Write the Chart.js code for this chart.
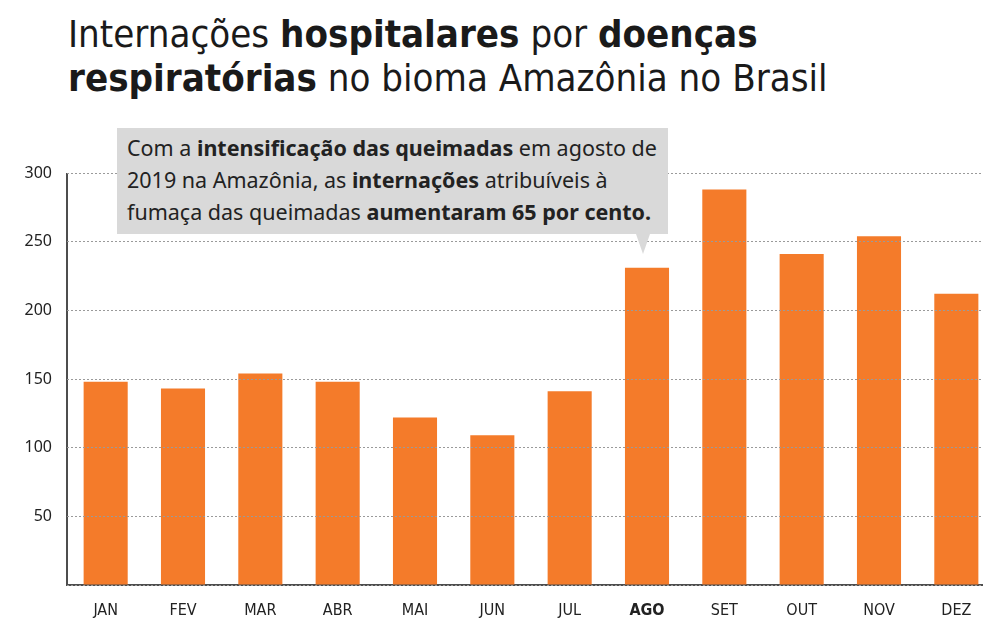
<!DOCTYPE html>
<html>
<head>
<meta charset="utf-8">
<script src="https://cdn.jsdelivr.net/npm/chart.js@4"></script>
<style>
  html, body { margin: 0; padding: 0; background: #fff; overflow: hidden; }
  body { width: 983px; height: 641px; position: relative; }
  #title {
    position: absolute; left: 68px; top: 12px;
    font-family: "DejaVu Sans Condensed", "Liberation Sans Narrow", "DejaVu Sans", sans-serif;
    font-stretch: condensed;
    font-size: 38.1px; line-height: 44px; color: #1a1a1a;
    white-space: nowrap;
  }
  #wrap { position: absolute; left: 0; top: 0; width: 1000px; height: 641px; }
  #note {
    position: absolute; left: 117px; top: 128px; width: 551px; height: 106px;
    background: #d9d9d9; box-sizing: border-box; padding: 4px 0 0 10px;
    font-family: "Noto Sans", "Open Sans", sans-serif; font-size: 21.5px; line-height: 32px;
    color: #222; white-space: nowrap;
  }
  #note:after {
    content: ""; position: absolute; left: 519px; top: 106px;
    border-left: 7px solid transparent; border-right: 7px solid transparent;
    border-top: 20px solid #d9d9d9;
  }
</style>
</head>
<body>
<div id="title">Internações <b>hospitalares</b> por <b>doenças</b><br><b>respiratórias</b> no bioma Amazônia no Brasil</div>
<div id="wrap"><canvas id="my-chart" width="1000" height="641"></canvas></div>
<div id="note">Com a <b>intensificação das queimadas</b> em agosto de<br>2019 na Amazônia, as <b>internações</b> atribuíveis à<br>fumaça das queimadas <b>aumentaram 65 por cento.</b></div>
<script>
const months = ["JAN", "FEV", "MAR", "ABR", "MAI", "JUN", "JUL", "AGO", "SET", "OUT", "NOV", "DEZ"];
const admissions = [148, 143, 154, 148, 122, 109, 141, 231, 288, 241, 254, 212];
const yTicks = [0, 50, 100, 150, 200, 250, 300];
const boldMonth = "AGO";

const ctx = document.getElementById("my-chart").getContext("2d");
const chart = new Chart(ctx, {
  type: "bar",
  data: {
    labels: months,
    datasets: [
      {
        label: "Internações",
        backgroundColor: "#f47b2a",
        data: admissions,
        barPercentage: 0.57,
        categoryPercentage: 1,
      },
    ],
  },
  options: {
    responsive: false,
    animation: false,
    layout: { padding: { top: 173, right: 5, left: 0, bottom: 0 } },
    plugins: { legend: { display: false }, tooltip: { enabled: false } },
    scales: {
      x: {
        // only the first grid line is shown: it is the vertical axis line
        grid: {
          drawTicks: false,
          color: (c) => (c.index === 0 ? "#4d4d4d" : "rgba(0,0,0,0)"),
          lineWidth: (c) => (c.index === 0 ? 2 : 0),
        },
        border: { color: "#4d4d4d", width: 2 },
        ticks: {
          color: "#222",
          padding: 16,
          font: (c) => ({
            family: "'DejaVu Sans Condensed', 'Liberation Sans Narrow', sans-serif",
            size: 16,
            weight: months[c.index] === boldMonth ? "bold" : "normal",
          }),
        },
        afterFit: (scale) => { scale.height = 56; },
      },
      y: {
        min: yTicks[0],
        max: yTicks[yTicks.length - 1],
        afterBuildTicks: (scale) => { scale.ticks = yTicks.map((v) => ({ value: v })); },
        grid: { color: "#9a9a9a", lineWidth: 1, z: 1, drawTicks: false },
        border: { color: "rgba(0,0,0,0)", width: 0, dash: [2, 2] },
        ticks: {
          color: "#222",
          padding: 15,
          font: { family: "'Noto Sans', sans-serif", size: 16 },
          callback: (v) => (v === 0 ? "" : v),
        },
        afterFit: (scale) => { scale.width = 67; },
      },
    },
  },
});
</script>
</body>
</html>
